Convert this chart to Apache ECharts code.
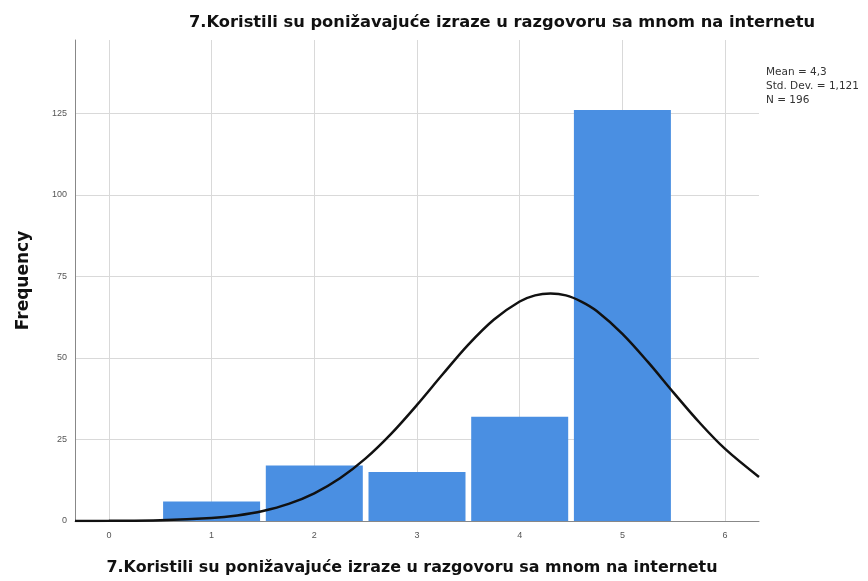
<!DOCTYPE html>
<html><head><meta charset="utf-8">
<script src="https://cdn.jsdelivr.net/npm/echarts@6/dist/echarts.min.js"></script>
<style>html,body{margin:0;padding:0;background:#fff}#c{width:868px;height:581px}</style>
</head><body><div id="c"></div>
<script>
const titleText = '7.Koristili su ponižavajuće izraze u razgovoru sa mnom na internetu';
const xAxisTitle = '7.Koristili su ponižavajuće izraze u razgovoru sa mnom na internetu';
const categories = [1, 2, 3, 4, 5];
const frequencies = [6, 17, 15, 32, 126];
const xTicks = [0, 1, 2, 3, 4, 5, 6];
const yTicks = [0, 25, 50, 75, 100, 125];
const curveX = [-0.33, 0, 0.5, 1, 1.25, 1.5, 1.75, 2, 2.25, 2.5, 2.75, 3, 3.25, 3.5, 3.75, 4, 4.15, 4.3, 4.45, 4.6, 4.75, 5, 5.25, 5.5, 5.75, 6, 6.33];
const curveY = [0.01, 0.05, 0.22, 0.92, 1.72, 3.08, 5.25, 8.5, 13.1, 19.2, 26.8, 35.6, 45.0, 54.1, 61.8, 67.3, 69.2, 69.75, 69.2, 67.3, 64.4, 57.4, 48.7, 39.3, 30.2, 22.1, 13.5];
const statsLines = ['Mean = 4,3', 'Std. Dev. = 1,121', 'N = 196'];

const chart = echarts.init(document.getElementById('c'));
const font = '"DejaVu Sans", sans-serif';
const smallFont = 'Liberation Sans, Arial, sans-serif';
const gridColor = '#d9d9d9';
chart.setOption({
  animation: false,
  title: [{
    text: titleText, left: 497, top: 10, textAlign: 'center',
    textStyle: {fontFamily: font, fontSize: 16.3, fontWeight: 'bold', color: '#111'}
  }, {
    text: xAxisTitle, left: 407, top: 555, textAlign: 'center',
    textStyle: {fontFamily: font, fontSize: 15.9, fontWeight: 'bold', color: '#111'}
  }, {
    text: statsLines.join('\n'), left: 761, top: 60,
    textStyle: {fontFamily: font, fontSize: 10.5, fontWeight: 'normal', color: '#333', lineHeight: 14}
  }],
  grid: {left: 75, right: 109, top: 40, bottom: 60, outerBoundsMode: 'none', containLabel: false},
  xAxis: {
    type: 'value', min: -0.33, max: 6.33,
    axisLine: {show: true, onZero: false, lineStyle: {color: '#888', width: 1}},
    axisTick: {show: false},
    axisLabel: {customValues: xTicks, fontFamily: smallFont, fontSize: 9, color: '#555', margin: 10},
    splitLine: {show: false}
  },
  yAxis: {
    type: 'value', min: 0, max: 147.5, interval: 25,
    name: 'Frequency', nameLocation: 'middle', nameGap: 43, nameRotate: 90,
    nameTextStyle: {fontFamily: font, fontSize: 17, fontWeight: 'bold', color: '#111'},
    axisLine: {show: true, onZero: false, lineStyle: {color: '#888', width: 1}},
    axisTick: {show: false},
    axisLabel: {customValues: yTicks, fontFamily: smallFont, fontSize: 9, color: '#555', margin: 8},
    splitLine: {show: false}
  },
  series: [{
    type: 'line', data: [], silent: true, z: 0,
    markLine: {
      silent: true, symbol: 'none', label: {show: false}, animation: false, z: 0,
      lineStyle: {color: gridColor, width: 1, type: 'solid'},
      data: xTicks.map(v => ({xAxis: v})).concat(yTicks.slice(1).map(v => ({yAxis: v})))
    }
  }, {
    type: 'bar',
    data: categories.map((c, i) => [c, frequencies[i]]),
    barWidth: 97,
    itemStyle: {color: '#4a8fe2'},
    silent: true,
    z: 2
  }, {
    type: 'line',
    data: curveX.map((x, i) => [x, curveY[i]]),
    smooth: 0.35, showSymbol: false, silent: true,
    lineStyle: {color: '#111', width: 2.5},
    z: 5
  }]
});
</script></body></html>
